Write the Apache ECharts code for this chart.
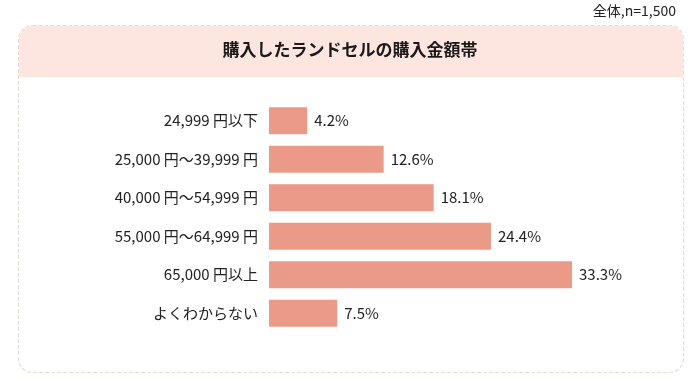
<!DOCTYPE html>
<html><head><meta charset="utf-8">
<script src="https://cdn.jsdelivr.net/npm/echarts@6/dist/echarts.min.js"></script>
<style>html,body{margin:0;padding:0;background:#fff}#c{width:700px;height:380px}</style>
</head><body><div id="c"></div>
<script>
const categories = ['24,999 円以下','25,000 円～39,999 円','40,000 円～54,999 円','55,000 円～64,999 円','65,000 円以上','よくわからない'];
const values = [4.2, 12.6, 18.1, 24.4, 33.3, 7.5];
const titleText = '購入したランドセルの購入金額帯';
const noteText = '全体,n=1,500';
const FONT = '"Noto Sans CJK JP", sans-serif';
const chart = echarts.init(document.getElementById('c'));
chart.setOption({
  backgroundColor: '#fff',
  animation: false,
  graphic: [
    {type:'rect', z:-10, shape:{x:18.5,y:25.5,width:665,height:347,r:14}, style:{fill:'#fff', stroke:'#E6DDCF', lineWidth:1.2, lineDash:[4,2]}},
    {type:'rect', z:-9, shape:{x:19,y:26,width:664,height:51,r:[14,14,0,0]}, style:{fill:'#FDE5E0'}},
    {type:'text', left:'center', top:41, style:{text:titleText, font:'bold 17px ' + FONT, fill:'#1a1a1a'}},
    {type:'text', right:24, top:4, style:{text:noteText, font:'14px ' + FONT, fill:'#222'}}
  ],
  grid: {left:269, right:67, top:101.5, bottom:47.5, containLabel:false},
  xAxis: {type:'value', min:0, max:40, show:false},
  yAxis: {type:'category', data:categories, inverse:true,
    axisLine:{show:false}, axisTick:{show:false},
    axisLabel:{margin:11, fontSize:15, color:'#222', fontFamily:FONT}},
  series: [{type:'bar', data:values, barWidth:27,
    itemStyle:{color:'#EC9A88'},
    label:{show:true, position:'right', distance:7, formatter:p=>p.value.toFixed(1)+'%', fontSize:15, color:'#222', fontFamily:FONT}}]
});
</script></body></html>
